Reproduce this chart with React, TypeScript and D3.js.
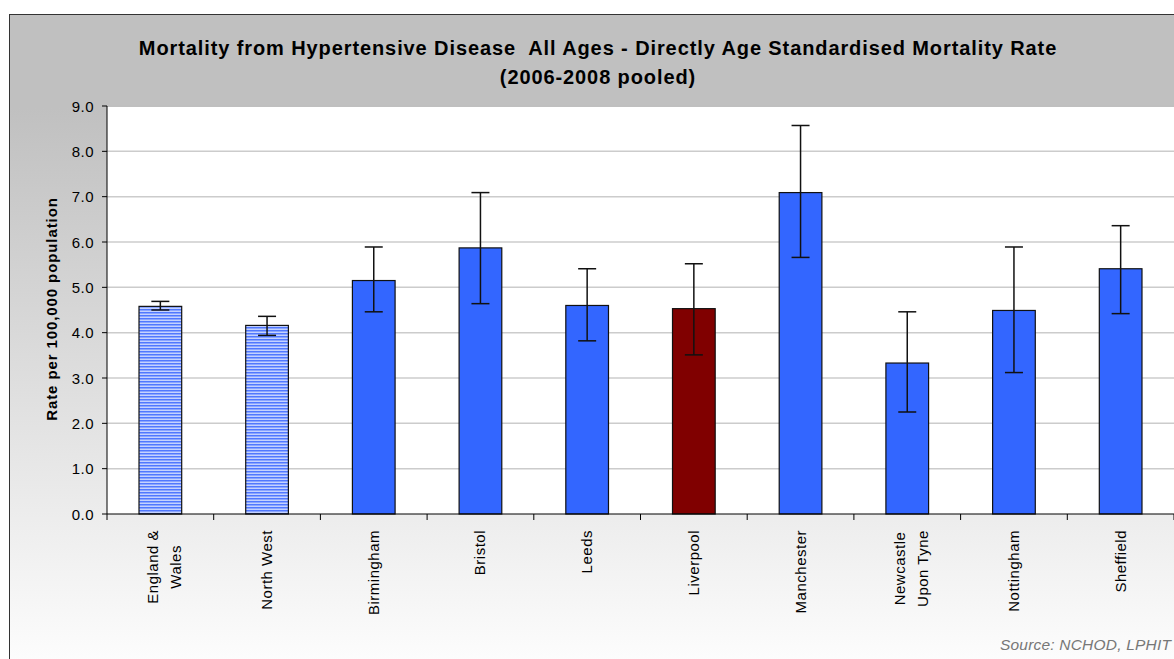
import React from "react";
import * as d3 from "d3";

const categories: string[][] = [
  ["England &", "Wales"],
  ["North West"],
  ["Birmingham"],
  ["Bristol"],
  ["Leeds"],
  ["Liverpool"],
  ["Manchester"],
  ["Newcastle", "Upon Tyne"],
  ["Nottingham"],
  ["Sheffield"],
];
const values = [4.58, 4.16, 5.15, 5.87, 4.6, 4.53, 7.09, 3.33, 4.49, 5.41];
const lower = [4.5, 3.94, 4.46, 4.64, 3.82, 3.51, 5.66, 2.25, 3.12, 4.42];
const upper = [4.69, 4.36, 5.89, 7.09, 5.41, 5.52, 8.57, 4.46, 5.89, 6.36];
const kinds = ["striped", "striped", "blue", "blue", "blue", "highlight", "blue", "blue", "blue", "blue"];
const yTicks = [0, 1, 2, 3, 4, 5, 6, 7, 8, 9];

const W = 1174;
const H = 659;
const left = 107;
const right = 1174;
const top = 106;
const bottom = 514;
const font = "Arial, 'Liberation Sans', sans-serif";

let ctx: CanvasRenderingContext2D | null = null;
function measure(text: string, size: number, spacing: number): number {
  if (!ctx) ctx = document.createElement("canvas").getContext("2d");
  if (!ctx) return text.length * size * 0.55;
  ctx.font = `${size}px ${font}`;
  return ctx.measureText(text).width + spacing * text.length;
}

export default function App() {
  const x = d3
    .scaleBand<number>()
    .domain(d3.range(categories.length))
    .range([left, right])
    .paddingInner(0.6)
    .paddingOuter(0.3);
  const step = x.step();
  const y = d3.scaleLinear().domain([0, 9]).range([bottom, top]);
  const fillFor = (k: string) =>
    k === "striped" ? "url(#stripes)" : k === "highlight" ? "#800000" : "#3366ff";

  return (
    <svg
      width={W}
      height={H}
      style={{ position: "absolute", left: 0, top: 0 }}
      fontFamily={font}
    >
      <defs>
        <linearGradient id="bg" x1="0" y1="0" x2="0" y2="1">
          <stop offset="0" stopColor="#c0c0c0" />
          <stop offset="0.14" stopColor="#c0c0c0" />
          <stop offset="1" stopColor="#ffffff" />
        </linearGradient>
        <pattern id="stripes" patternUnits="userSpaceOnUse" width="4" height="3">
          <rect width="4" height="3" fill="#c4d2ff" />
          <rect width="4" height="1.5" fill="#5078ff" />
        </pattern>
      </defs>
      <rect x={0} y={0} width={W} height={H} fill="#ffffff" />
      <rect x={9.5} y={14.5} width={W + 10} height={H + 10} fill="url(#bg)" stroke="#333" strokeWidth={1} />
      <rect x={left} y={top} width={right - left} height={bottom - top} fill="#ffffff" />
      <line x1={left} x2={right} y1={top} y2={top} stroke="#999" strokeWidth={2} />
      {yTicks.slice(1).map((t) => (
        <line key={t} x1={left} x2={right} y1={y(t)} y2={y(t)} stroke="#cccccc" strokeWidth={1.5} />
      ))}
      <text x={598} y={55} textAnchor="middle" fontSize={20} fontWeight="bold" letterSpacing={0.9} fill="#000" style={{ whiteSpace: "pre" }}>
        {"Mortality from Hypertensive Disease  All Ages - Directly Age Standardised Mortality Rate"}
      </text>
      <text x={598} y={84} textAnchor="middle" fontSize={20} fontWeight="bold" letterSpacing={0.9} fill="#000">
        (2006-2008 pooled)
      </text>
      {values.map((v, i) => {
        const bx = x(i)!;
        const bw = x.bandwidth();
        const cx = bx + bw / 2;
        return (
          <g key={i}>
            <rect x={bx} y={y(v)} width={bw} height={bottom - y(v)} fill={fillFor(kinds[i])} stroke="#111" strokeWidth={1.2} />
            <line x1={cx} x2={cx} y1={y(upper[i])} y2={y(lower[i])} stroke="#111" strokeWidth={1.5} />
            <line x1={cx - 9} x2={cx + 9} y1={y(upper[i])} y2={y(upper[i])} stroke="#111" strokeWidth={1.5} />
            <line x1={cx - 9} x2={cx + 9} y1={y(lower[i])} y2={y(lower[i])} stroke="#111" strokeWidth={1.5} />
          </g>
        );
      })}
      <line x1={left} x2={left} y1={top} y2={bottom} stroke="#000" strokeWidth={1} />
      <line x1={left} x2={right} y1={bottom} y2={bottom} stroke="#000" strokeWidth={1} />
      {yTicks.map((t) => (
        <g key={t}>
          <line x1={left - 5} x2={left} y1={y(t)} y2={y(t)} stroke="#000" />
          <text x={left - 13} y={y(t) + 5.5} textAnchor="end" fontSize={15} letterSpacing={0.5} fill="#000">
            {t.toFixed(1)}
          </text>
        </g>
      ))}
      {d3.range(categories.length + 1).map((i) => (
        <line key={i} x1={left + i * step} x2={left + i * step} y1={bottom} y2={bottom + 6} stroke="#000" />
      ))}
      {categories.map((lines, i) => {
        const cx = x(i)! + x.bandwidth() / 2;
        const n = lines.length;
        const maxLen = d3.max(lines, (l) => measure(l, 15, 0.5)) || 0;
        const startY = bottom + 16;
        return lines.map((ln, j) => {
          const off = n > 1 ? (j - (n - 1) / 2) * 23 + 9.5 : 5;
          const py = n > 1 ? startY + maxLen / 2 : startY;
          return (
            <text
              key={i + "-" + j}
              transform={`translate(${cx + off},${py}) rotate(-90)`}
              textAnchor={n > 1 ? "middle" : "end"}
              fontSize={15}
              letterSpacing={0.5}
              fill="#000"
            >
              {ln}
            </text>
          );
        });
      })}
      <text transform={`translate(57,309) rotate(-90)`} textAnchor="middle" fontSize={15} fontWeight="bold" letterSpacing={0.9} fill="#000">
        Rate per 100,000 population
      </text>
      <text x={1000} y={650} fontSize={15.5} fontStyle="italic" letterSpacing={0.2} fill="#777">
        Source: NCHOD, LPHIT
      </text>
    </svg>
  );
}
